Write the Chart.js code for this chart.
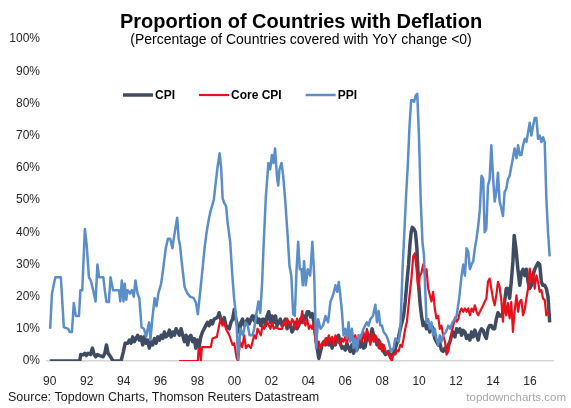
<!DOCTYPE html>
<html>
<head>
<meta charset="utf-8">
<script src="https://cdn.jsdelivr.net/npm/chart.js@4/dist/chart.umd.min.js"></script>
<style>
html,body{margin:0;padding:0;background:#fff;}
#wrap{width:571px;height:408px;position:relative;}
</style>
</head>
<body>
<div id="wrap"><canvas id="c" width="571" height="408"></canvas></div>
<script>
// ---------- texts ----------
const titleText = 'Proportion of Countries with Deflation';
const subtitleText = '(Percentage of Countries covered with YoY change <0)';
const sourceText = 'Source: Topdown Charts, Thomson Reuters Datastream';
const siteText = 'topdowncharts.com';
const seriesNames = ['CPI', 'Core CPI', 'PPI'];

// ---------- axis ticks ----------
const xTickYears = [1990, 1992, 1994, 1996, 1998, 2000, 2002, 2004, 2006, 2008, 2010, 2012, 2014, 2016];
const xTickLabels = ['90', '92', '94', '96', '98', '00', '02', '04', '06', '08', '10', '12', '14', '16'];

// ---------- CPI ----------
const cpiYears = [
1990.0,1991.62,1991.68,1991.8,1991.9,1991.98,1992.07,1992.2,1992.31,1992.4,
1992.49,1992.58,1992.7,1992.89,1992.98,1993.07,1993.16,1993.29,1993.43,1993.86,
1993.99,1994.08,1994.22,1994.31,1994.4,1994.49,1994.58,1994.67,1994.76,1994.85,
1994.94,1995.03,1995.12,1995.21,1995.3,1995.39,1995.48,1995.57,1995.67,1995.76,
1995.85,1995.94,1996.03,1996.12,1996.21,1996.3,1996.39,1996.48,1996.57,1996.66,
1996.75,1996.84,1996.93,1997.02,1997.11,1997.2,1997.29,1997.38,1997.47,1997.56,
1997.64,1997.73,1997.82,1997.91,1998.0,1998.09,1998.18,1998.27,1998.36,1998.45,
1998.54,1998.63,1998.72,1998.81,1998.9,1999.08,1999.17,1999.26,1999.35,1999.45,
1999.54,1999.72,1999.81,1999.9,1999.99,2000.08,2000.17,2000.26,2000.35,2000.44,
2000.53,2000.71,2000.8,2000.89,2000.98,2001.07,2001.16,2001.25,2001.34,2001.43,
2001.52,2001.59,2001.68,2001.77,2001.86,2001.95,2002.04,2002.13,2002.22,2002.31,
2002.4,2002.49,2002.58,2002.67,2002.76,2002.85,2002.94,2003.03,2003.12,2003.21,
2003.3,2003.39,2003.48,2003.58,2003.67,2003.76,2003.85,2003.94,2004.03,2004.12,
2004.21,2004.3,2004.39,2004.48,2004.57,2004.66,2004.75,2004.84,2004.93,2005.02,
2005.11,2005.2,2005.29,2005.38,2005.47,2005.56,2005.64,2005.73,2005.82,2005.91,
2006.0,2006.09,2006.18,2006.27,2006.36,2006.45,2006.54,2006.63,2006.72,2006.81,
2006.9,2006.99,2007.08,2007.17,2007.26,2007.36,2007.45,2007.54,2007.63,2007.72,
2007.81,2007.9,2007.99,2008.08,2008.17,2008.26,2008.35,2008.44,2008.53,2008.62,
2008.71,2008.8,2008.89,2008.98,2009.07,2009.16,2009.25,2009.34,2009.43,2009.5,
2009.57,2009.63,2009.72,2009.8,2009.88,2009.96,2010.05,2010.13,2010.22,2010.31,
2010.4,2010.49,2010.58,2010.67,2010.76,2010.85,2010.94,2011.03,2011.12,2011.21,
2011.3,2011.4,2011.49,2011.58,2011.67,2011.76,2011.85,2011.94,2012.03,2012.12,
2012.21,2012.3,2012.39,2012.48,2012.57,2012.66,2012.75,2012.84,2012.93,2013.02,
2013.11,2013.2,2013.29,2013.38,2013.47,2013.55,2013.64,2013.73,2013.82,2013.91,
2014.0,2014.09,2014.18,2014.27,2014.36,2014.45,2014.54,2014.63,2014.72,2014.81,
2014.9,2014.99,2015.08,2015.15,2015.24,2015.34,2015.45,2015.54,2015.63,2015.72,
2015.81,2015.9,2015.99,2016.08,2016.17,2016.26,2016.35,2016.44,2016.53,2016.62,
2016.71,2016.8,2016.89,2016.98,2017.07];
const cpiValues = [
0,0,2,1.9,2.4,1.7,2.4,2,4,2,
1.3,2,1.7,1.3,2.4,5,2.4,1.3,0,0,
3,5.5,5.5,6.5,5.5,7.5,6,7,8,6.5,
7.5,5,7.5,5.5,6.5,4,6,5,7,5.5,
7.5,6.5,8,7,9,7.5,8,9.6,7.5,9,
8,10,9,8,10,8,6,8,5,7.5,
8,6,7,4,6.5,4.5,7.5,9,10,11,
12,11,12.5,11.5,13,13.5,15,13,12,13.5,
11,10,12,13,16,13,11,9,12,13,
11,13,11.5,13,14,12.5,14,12,13,11,
13,13,11,14,15.3,12,14,12,14,11,
12,13,11,12,13,10,12,11,9,10,
12,10,11,13,12,14,12.8,15.3,15.3,13.7,
14.7,12,8,4,0.8,3,5,6,5,7,
5,6,4,6.5,5,7,8,5.5,4,4.4,
3.4,5.5,4,3,5,2.4,4,3.4,5,4.4,
6,4,4.4,7.5,8,6,10,8,7,5,
6.5,4,5,3,2,2.4,3,1.3,2,2.4,
4,5.5,7.5,10,12,14,18.5,24.5,30,36,
40,41.5,41,40,35,25,18,14,11,12,
10,11,9,11,10,7,6,5,5.5,3.4,
3,4,3,5,6,8,9,7.5,10,9,
10,8,9.5,9,7,8,6.5,9,7.5,9.6,
8,6.5,9,10,9.5,8,7,10,11,11,
10,10,13,15,14,14,15,18.5,22.5,22.5,
19.5,24.5,31,39,35,29,23.5,27.5,28.5,26.5,
28.5,24.5,22.5,23.5,26.5,28.5,29.5,30.5,30,24.5,
23.5,23.5,22.5,20,12];

// ---------- Core CPI ----------
const coreYears = [
1997.0,1998.02,1998.06,1998.12,1998.18,1998.24,1998.72,1998.81,1999.05,1999.17,
1999.26,1999.35,1999.45,1999.54,1999.72,1999.9,1999.99,2000.12,2000.2,2000.3,
2000.42,2000.53,2000.62,2000.75,2000.89,2000.98,2001.07,2001.16,2001.25,2001.34,
2001.43,2001.52,2001.61,2001.7,2001.77,2001.86,2001.95,2002.04,2002.13,2002.22,
2002.4,2002.58,2002.67,2002.76,2002.85,2002.94,2003.03,2003.12,2003.21,2003.3,
2003.39,2003.48,2003.58,2003.67,2003.76,2003.85,2003.94,2004.03,2004.12,2004.21,
2004.3,2004.39,2004.48,2004.57,2004.66,2004.75,2004.84,2004.93,2005.02,2005.11,
2005.2,2005.29,2005.38,2005.47,2005.56,2005.64,2005.73,2005.82,2005.91,2006.0,
2006.09,2006.18,2006.27,2006.36,2006.45,2006.54,2006.63,2006.72,2006.81,2006.9,
2006.99,2007.08,2007.17,2007.26,2007.36,2007.45,2007.54,2007.63,2007.72,2007.81,
2007.9,2007.99,2008.08,2008.17,2008.26,2008.35,2008.44,2008.53,2008.62,2008.71,
2008.8,2008.89,2008.98,2009.07,2009.16,2009.25,2009.34,2009.43,2009.52,2009.59,
2009.68,2009.77,2009.86,2009.95,2010.04,2010.13,2010.22,2010.31,2010.4,2010.49,
2010.58,2010.67,2010.76,2010.85,2010.94,2011.03,2011.12,2011.21,2011.3,2011.4,
2011.49,2011.58,2011.67,2011.76,2011.85,2011.94,2012.03,2012.12,2012.21,2012.3,
2012.39,2012.48,2012.57,2012.66,2012.75,2012.84,2012.93,2013.02,2013.11,2013.2,
2013.29,2013.38,2013.47,2013.55,2013.64,2013.73,2013.82,2013.91,2014.0,2014.09,
2014.18,2014.27,2014.36,2014.45,2014.54,2014.63,2014.72,2014.81,2014.9,2014.99,
2015.08,2015.17,2015.27,2015.36,2015.45,2015.54,2015.63,2015.72,2015.81,2015.9,
2015.99,2016.08,2016.17,2016.26,2016.35,2016.44,2016.53,2016.62,2016.71,2016.8,
2016.89,2016.98,2017.07];
const coreValues = [
0,0,4,4,0,4.3,4.3,7,7.5,11,
13.2,11,12,10,8,5,5.5,1,0,6,
4.3,8,4,5,4,6,8,7,10,9,
8,11,10,11,12.2,11,10,12,10,10.5,
10,10,12.2,11,13.2,12,11,13,12,10,
13.2,11,12.2,15.5,12,11,13,10,11,10,
12,6,3.9,6,3.9,5.5,5,7,5,8,
6,7.5,5,8,6.5,6,5,7,6,7.5,
5.5,8,6.5,9,6,8,6,5,8,6,
9,6,10,8,5,8.5,6,8,7,4,
6,3,5,3.4,2,2.4,0.8,0,2.4,2,
3.4,3,5,4.4,7,10,12.2,17.3,22.5,26,
32.5,33.5,28.5,22.5,26.5,27.5,30,27,28.5,22.5,
20.5,18.5,21.5,16.3,13.2,14,10,11,8,6,
2,3,6,9,11,13.5,12.2,13,15.3,16.3,
15.3,16.3,15.3,16.3,14.2,16.3,15.3,17.3,15.3,14.2,
15.3,16.3,17.3,18.4,19.4,24.6,25.6,22.5,19.4,17.3,
20.4,24.6,23,19,12.2,19.4,14.2,18,13.2,18.4,
9,15.3,20.4,15.3,18.4,19,14.2,16,19.4,22.5,
28.7,24.6,27.7,22.5,26.6,24.6,21.5,22,19.4,19,
14.2,15,14.2];

// ---------- PPI ----------
const ppiYears = [
1990.02,1990.12,1990.3,1990.6,1990.76,1991.0,1991.08,1991.2,1991.3,1991.41,
1991.58,1991.66,1991.76,1991.9,1992.0,1992.12,1992.22,1992.35,1992.48,1992.58,
1992.67,1992.9,1992.98,1993.07,1993.2,1993.29,1993.43,1993.75,1993.82,1993.9,
1993.99,1994.06,1994.14,1994.22,1994.35,1994.45,1994.55,1994.64,1994.75,1994.85,
1994.97,1995.1,1995.22,1995.3,1995.38,1995.45,1995.56,1995.68,1995.78,1995.88,
1996.03,1996.15,1996.28,1996.4,1996.52,1996.64,1996.74,1996.9,1996.98,1997.05,
1997.14,1997.3,1997.45,1997.6,1997.8,1997.92,1998.02,1998.1,1998.28,1998.38,
1998.48,1998.58,1998.68,1998.78,1998.88,1998.98,1999.08,1999.2,1999.28,1999.36,
1999.45,1999.55,1999.63,1999.77,1999.88,1999.98,2000.05,2000.12,2000.2,2000.32,
2000.46,2000.6,2000.72,2000.82,2000.98,2001.07,2001.2,2001.3,2001.4,2001.5,
2001.58,2001.7,2001.84,2001.94,2002.03,2002.12,2002.2,2002.3,2002.37,2002.44,
2002.55,2002.64,2002.76,2002.88,2002.98,2003.08,2003.18,2003.27,2003.36,2003.45,
2003.54,2003.63,2003.7,2003.77,2003.86,2003.97,2004.1,2004.22,2004.32,2004.42,
2004.53,2004.66,2004.8,2004.93,2005.07,2005.2,2005.34,2005.47,2005.56,2005.65,
2005.73,2005.82,2005.91,2006.0,2006.09,2006.18,2006.27,2006.36,2006.45,2006.54,
2006.63,2006.72,2006.81,2006.99,2007.17,2007.26,2007.36,2007.5,2007.63,2007.72,
2007.81,2007.9,2007.99,2008.08,2008.22,2008.35,2008.47,2008.62,2008.71,2008.8,
2008.9,2009.0,2009.1,2009.2,2009.3,2009.38,2009.48,2009.57,2009.64,2009.73,
2009.82,2009.9,2009.99,2010.08,2010.18,2010.26,2010.33,2010.4,2010.49,2010.58,
2010.67,2010.76,2010.85,2010.94,2011.03,2011.12,2011.21,2011.3,2011.45,2011.58,
2011.67,2011.81,2011.94,2012.03,2012.17,2012.3,2012.39,2012.48,2012.57,2012.66,
2012.75,2012.84,2012.93,2013.02,2013.11,2013.2,2013.29,2013.38,2013.47,2013.55,
2013.64,2013.73,2013.82,2013.91,2014.0,2014.09,2014.18,2014.27,2014.36,2014.45,
2014.54,2014.63,2014.72,2014.81,2014.9,2015.08,2015.17,2015.27,2015.36,2015.45,
2015.54,2015.63,2015.72,2015.81,2015.9,2015.99,2016.08,2016.17,2016.26,2016.35,
2016.44,2016.53,2016.62,2016.71,2016.8,2016.89,2016.98,2017.07];
const ppiValues = [
10,21,26,26,10.5,10,9,9,18,14,
14,22,22,41,36,26,25,22,18.5,30,
26,26,22,18.3,18.3,26,22,22,18.5,25,
18.5,24,19,22,21,22,20,25,21,19.5,
10.5,10,7.5,10,12,6.5,13.5,19.5,17,21,
24,29,35,38,38,35,39,44.5,38,36,
31,23,21,20,19.5,18,14.5,19,29,35,
39.5,43,46,48,50,55,60,64.5,60,50.5,
49,48,43,37,27,19.5,16,11,0.5,10,
8,12,11,8,8,10,15,18.5,15,24.5,
36,51,61.5,59.5,64,61.5,66,57.5,54.5,59.5,
61.5,57.5,49,39,29.5,26.5,14.5,14,28,37,
28.5,28.5,23.5,31,23.5,28.5,26.5,37,26.5,4,
13,10,11,14,12,18.5,20.5,23.5,21.5,24.5,
20.5,15.5,8,10,7,12,6,10,4,7,
3,8,7,10,12,11,13,14,17.5,12,
15.5,11,11,9,8,6,3,4,7,6.5,
6,12,28,40,52,60,73,81,81,80.5,
82.5,83,70,51,37,33,22.5,12,13,10,
12,8,10,7,5,8,6,8,9,11,
10,12,13,14,19.5,26.5,30,26.5,35,34,
28.5,30,31,35,38,42,47,57.5,56.5,40,
41,54.5,56.5,67,57.5,49.5,52.5,58.5,49.5,47.5,
45,52.5,53.5,56.5,57.5,63,66,63,67,64,
64,67,69,68,71,74,70,73,75.5,75.5,
69,70,68,69.5,68,50.5,40,32.5];

// ---------- build ----------
const FONT = '"Liberation Sans", Arial, Helvetica, sans-serif';
Chart.defaults.font.family = FONT;

function pairs(xs, ys) { return xs.map((x, i) => ({ x: x, y: ys[i] })); }

const colors = { cpi: '#3e4b61', core: '#e8111b', ppi: '#5b8ec8' };

const textPlugin = {
  id: 'chartTexts',
  afterDraw(chart) {
    const ctx = chart.ctx;
    ctx.save();
    // title
    ctx.fillStyle = '#000';
    ctx.textAlign = 'center';
    ctx.textBaseline = 'alphabetic';
    ctx.font = 'bold 20px ' + FONT;
    ctx.fillText(titleText, 301, 28);
    ctx.font = '14px ' + FONT;
    ctx.fillText(subtitleText, 301, 43.5);
    // legend
    ctx.textAlign = 'left';
    ctx.textBaseline = 'middle';
    ctx.font = 'bold 12px ' + FONT;
    let lx = 123;
    const ly = 95;
    chart.data.datasets.forEach(ds => {
      ctx.strokeStyle = ds.borderColor;
      ctx.lineWidth = ds.borderWidth;
      ctx.lineCap = 'butt';
      ctx.beginPath();
      ctx.moveTo(lx, ly);
      ctx.lineTo(lx + 30, ly);
      ctx.stroke();
      ctx.fillStyle = '#000';
      ctx.fillText(ds.label, lx + 32, ly + 0.5);
      lx += 32 + ctx.measureText(ds.label).width + 24;
    });
    // source & site
    ctx.textBaseline = 'middle';
    ctx.fillStyle = '#1a1a1a';
    ctx.font = '12.5px ' + FONT;
    ctx.fillText(sourceText, 8, 397.5);
    ctx.textAlign = 'right';
    ctx.fillStyle = '#a6a6a6';
    ctx.font = '11.5px ' + FONT;
    ctx.fillText(siteText, 566, 397.5);
    ctx.restore();
  }
};

new Chart(document.getElementById('c'), {
  type: 'line',
  data: {
    datasets: [
      { label: seriesNames[0], data: pairs(cpiYears, cpiValues), borderColor: colors.cpi, backgroundColor: colors.cpi, borderWidth: 3.5, order: 3 },
      { label: seriesNames[1], data: pairs(coreYears, coreValues), borderColor: colors.core, backgroundColor: colors.core, borderWidth: 2.2, order: 2 },
      { label: seriesNames[2], data: pairs(ppiYears, ppiValues), borderColor: colors.ppi, backgroundColor: colors.ppi, borderWidth: 2.5, order: 1 }
    ]
  },
  options: {
    responsive: false,
    animation: false,
    devicePixelRatio: 1,
    layout: { padding: { left: 0, right: 18, top: 39, bottom: 20 } },
    elements: {
      point: { radius: 0, hoverRadius: 0 },
      line: { tension: 0, borderJoinStyle: 'round', borderCapStyle: 'butt', fill: false }
    },
    plugins: {
      legend: { display: false },
      tooltip: { enabled: false },
      title: { display: false }
    },
    scales: {
      x: {
        type: 'linear',
        min: 1989.85,
        max: 2017.25,
        afterBuildTicks: s => { s.ticks = xTickYears.map(v => ({ value: v })); },
        afterFit: s => { s.height = 27; },
        grid: { display: false, drawTicks: false },
        border: { display: true, color: '#d4d4d4', width: 1.5 },
        ticks: {
          autoSkip: false, maxRotation: 0, minRotation: 0, padding: 13,
          color: '#262626', font: { size: 12 },
          callback: (v, i) => xTickLabels[i]
        }
      },
      y: {
        min: 0, max: 100,
        afterFit: s => { s.width = 47; },
        grid: { display: false, drawTicks: false },
        border: { display: false },
        ticks: { stepSize: 10, padding: 7, color: '#262626', font: { size: 12 }, callback: v => v + '%' }
      }
    }
  },
  plugins: [textPlugin]
});
</script>
</body>
</html>
